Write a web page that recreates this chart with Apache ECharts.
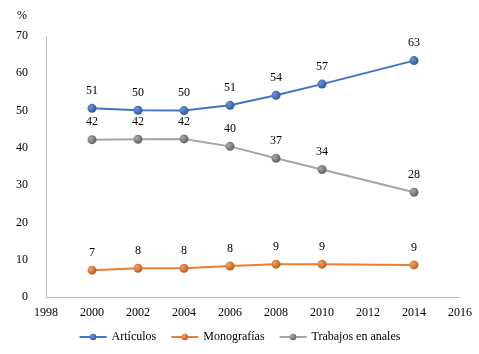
<!DOCTYPE html>
<html>
<head>
<meta charset="utf-8">
<script src="https://cdn.jsdelivr.net/npm/echarts@6/dist/echarts.min.js"></script>
<style>
  html, body { margin:0; padding:0; background:#fff; }
  #chart { width:479px; height:354px; }
</style>
</head>
<body>
<div id="chart"></div>
<script>
var years = [2000, 2002, 2004, 2006, 2008, 2010, 2014];
var articulos = [50.6, 50.1, 50.0, 51.4, 54.1, 57.1, 63.4];
var monografias = [7.2, 7.7, 7.7, 8.3, 8.8, 8.8, 8.6];
var trabajos = [42.2, 42.3, 42.4, 40.4, 37.2, 34.2, 28.1];

var fontFam = '"Liberation Serif", "Times New Roman", serif';

function pares(vals){
	var out = [];
	for (var i = 0; i < years.length; i++) {
		out.push([years[i], vals[i]]);
	}
	return out;
}

/*esfera con degradado para los marcadores*/
function esfera(claro, oscuro){
	return new echarts.graphic.RadialGradient(0.35, 0.35, 0.7, [
		{ offset: 0, color: claro },
		{ offset: 1, color: oscuro }
	]);
}

function serie(nombre, vals, linea, claro, oscuro){
	return {
		name: nombre,
		type: 'line',
		data: pares(vals),
		symbol: 'circle',
		symbolSize: 9,
		lineStyle: { color: linea, width: 2 },
		itemStyle: { color: esfera(claro, oscuro), borderWidth: 0 },
		label: {
			show: true,
			position: 'top',
			distance: 7,
			color: '#000',
			fontFamily: fontFam,
			fontSize: 12,
			formatter: function(p){ return Math.round(p.value[1]); }
		}
	};
}

var chart = echarts.init(document.getElementById('chart'));
chart.setOption({
	animation: false,
	title: {
		text: '%',
		left: 12,
		top: 5,
		textStyle: { fontFamily: fontFam, fontSize: 12, fontWeight: 'normal', color: '#000' }
	},
	color: ['#4472C4', '#ED7D31', '#A5A5A5'],
	grid: { left: 46, right: 19, top: 36, bottom: 57 },
	xAxis: {
		type: 'value',
		min: 1998,
		max: 2016,
		interval: 2,
		splitLine: { show: false },
		axisTick: { show: false },
		axisLine: { lineStyle: { color: '#BFBFBF' } },
		axisLabel: {
			color: '#000', fontFamily: fontFam, fontSize: 12, margin: 10,
			formatter: function(v){ return String(v); }
		}
	},
	yAxis: {
		type: 'value',
		min: 0,
		max: 70,
		interval: 10,
		splitLine: { show: false },
		axisTick: { show: false },
		axisLine: { show: true, lineStyle: { color: '#BFBFBF' } },
		axisLabel: { color: '#000', fontFamily: fontFam, fontSize: 12, margin: 18 }
	},
	legend: {
		bottom: 6,
		left: 'center',
		itemWidth: 27,
		itemHeight: 8,
		itemGap: 14,
		textStyle: { fontFamily: fontFam, fontSize: 12, color: '#000' },
		data: ['Artículos', 'Monografías', 'Trabajos en anales']
	},
	series: [
		serie('Artículos', articulos, '#4472C4', '#6C93D8', '#2F5597'),
		serie('Monografías', monografias, '#ED7D31', '#F4A36B', '#B85A17'),
		serie('Trabajos en anales', trabajos, '#A5A5A5', '#A8A8A8', '#5F5F5F')
	]
});
</script>
</body>
</html>
